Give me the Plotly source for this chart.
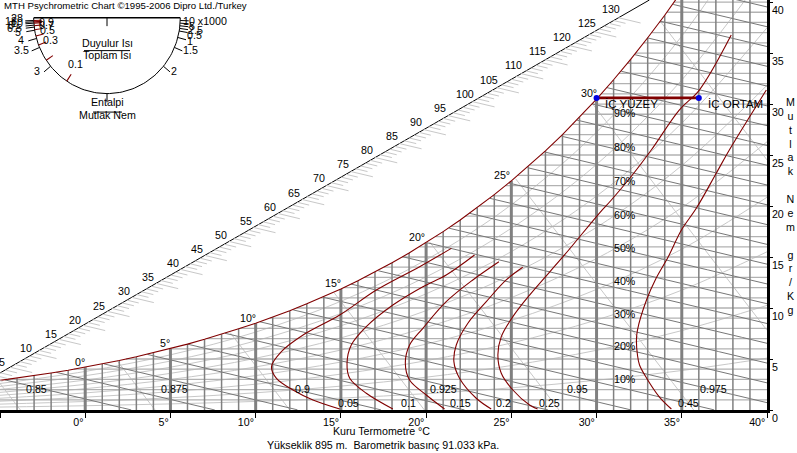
import numpy as np
import plotly.graph_objects as go

# ---------- chart values ----------
sat_T = list(range(-5, 37))
sat_W = [2.90, 3.12, 3.37, 3.63, 3.90, 4.20, 4.52, 4.86, 5.22, 5.61, 6.02, 6.46, 6.93, 7.43,
         7.96, 8.51, 9.10, 9.73, 10.41, 11.12, 11.87, 12.68, 13.53, 14.43, 15.39, 16.41,
         17.49, 18.63, 19.84, 21.12, 22.47, 23.90, 25.40, 27.00, 28.70, 30.49, 32.38,
         34.38, 36.50, 38.70, 41.07, 43.60]

rh_T = [-5, 0, 5, 10, 15, 20, 25, 30, 35, 40]
rh_10 = [0.288, 0.418, 0.596, 0.840, 1.167, 1.603, 2.173, 2.914, 3.869, 5.087]
rh_20 = [0.576, 0.836, 1.195, 1.685, 2.342, 3.213, 4.361, 5.854, 7.787, 10.26]
rh_30 = [0.864, 1.255, 1.795, 2.530, 3.520, 4.835, 6.571, 8.827, 11.75, 15.51]
rh_40 = [1.153, 1.676, 2.393, 3.375, 4.703, 6.459, 8.784, 11.825, 15.77, 20.86]
rh_50 = [1.442, 2.095, 2.996, 4.224, 5.883, 8.095, 11.02, 14.85, 19.84, 26.30]
rh_60 = [1.730, 2.514, 3.595, 5.073, 7.07, 9.74, 13.27, 17.91, 23.97, 31.84]
rh_70 = [2.02, 2.935, 4.197, 5.927, 8.26, 11.39, 15.53, 20.98, 28.13, 37.48]
rh_80 = [2.31, 3.36, 4.80, 6.78, 9.46, 13.05, 17.82, 24.08, 32.36, 43.1]
rh_90 = [2.60, 3.78, 5.41, 7.64, 10.66, 14.72, 20.12, 27.25, 36.66, 49.0]
rh_levels = [rh_10, rh_20, rh_30, rh_40, rh_50, rh_60, rh_70, rh_80, rh_90]

red_T_05 = [14.93, 13.36, 12.19, 11.22, 10.93, 11.51, 12.78, 14.93, 17.08, 19.62, 21.48]
red_W_05 = [0.1, 0.98, 1.96, 3.1, 4.25, 5.72, 7.35, 9.31, 11.76, 14.05, 15.85]
red_T_10 = [18.05, 16.49, 15.52, 15.36, 15.61, 16.49, 18.05, 19.81, 21.18, 22.84]
red_W_10 = [0.1, 1.64, 3.11, 4.58, 6.37, 8.17, 10.29, 12.09, 13.24, 15.2]
red_T_15 = [21.08, 20.01, 19.03, 18.78, 19.03, 19.81, 21.18, 22.74, 24.27]
red_W_15 = [0.1, 1.47, 2.94, 4.58, 6.37, 8.01, 10.62, 12.75, 14.54]
red_T_20 = [23.82, 22.94, 21.96, 21.63, 21.77, 22.45, 23.53, 24.7, 25.67]
red_W_20 = [0.1, 1.15, 3.11, 4.74, 6.37, 8.5, 10.62, 12.75, 13.99]
red_T_25 = [26.54, 26.07, 25.09, 24.41, 24.21, 24.41, 25.09, 26.07, 28.12, 30.17, 30.87,
            32.1, 33.21, 34.85, 36.03, 37.9]
red_W_25 = [0.1, 0.49, 1.96, 3.6, 5.39, 7.19, 9.15, 11.27, 15.2, 19.31, 20.59,
            23.04, 25.49, 29.41, 31.37, 36.76]
red_T_45 = [34.39, 33.69, 32.93, 32.52, 32.4, 32.34, 32.4, 32.93, 33.5, 34.2, 34.98,
            35.86, 37.03, 37.79, 39.96]
red_W_45 = [0.1, 1.27, 3.14, 4.41, 5.39, 6.86, 7.84, 10.78, 12.94, 15, 17.65,
            19.8, 23.24, 25.49, 31.37]
red_curves = [(red_T_05, red_W_05), (red_T_10, red_W_10), (red_T_15, red_W_15),
              (red_T_20, red_W_20), (red_T_25, red_W_25), (red_T_45, red_W_45)]

enth_W40 = [-14.8, -12.86, -10.92, -8.98, -7.04, -5.1, -3.16, -1.22, 0.72, 2.66, 4.6, 6.54,
            8.48, 10.42, 12.36, 14.3, 16.24, 18.18, 20.12, 22.06, 24, 25.94, 27.88, 29.82,
            31.76, 33.7, 35.64, 37.58, 39.52]
volume_T0 = [-3.8, 4.1, 12.0, 19.9, 27.8, 35.7, 43.6, 51.3, 59.2]
dry_bulb = list(range(-4, 40))
humidity = list(range(1, 41))
enth_values = list(range(5, 131, 5))
process_T = [30, 36]
process_W = [30.6, 30.6]

x_ticks = [-5, 0, 5, 10, 15, 20, 25, 30, 35, 40]
x_labels = ["", "0°", "5°", "10°", "15°", "20°", "25°", "30°", "35°", "40°"]
y_ticks = [0, 5, 10, 15, 20, 25, 30, 35, 40]

sat_labels = [("0°", 80, 362), ("5°", 165, 343), ("10°", 248, 318), ("15°", 333, 283),
              ("20°", 417, 237), ("25°", 502, 175), ("30°", 589, 93)]
rh_labels = [("10%", 379), ("20%", 346), ("30%", 314), ("40%", 281), ("50%", 248),
             ("60%", 215), ("70%", 181), ("80%", 147), ("90%", 113)]
vol_labels = [("0.85", 36), ("0.875", 174), ("0.9", 302), ("0.925", 443), ("0.95", 577), ("0.975", 713)]
fac_labels = [("0.05", 348), ("0.1", 408), ("0.15", 460), ("0.2", 503), ("0.25", 549), ("0.45", 688)]

# protractor: tick angle below the horizontal (degrees), on each side
pro_left_black = [2, 3, 4, 5.5, 7, 9.4, 15.8, 23, 39.7]
pro_left_text = [("28", 17, 18), ("18", 11, 21), ("10", 17, 23), ("8", 11, 25), ("6.5", 14, 28),
                 ("5", 18, 32), ("4", 21, 40), ("3.5", 21, 50), ("3", 37, 71)]
pro_left_red = [2, 3, 4, 6, 9, 13.8, 21, 34, 56.7]
pro_red_text = [("0.9", 46, 22), ("0.7", 46, 25), ("0.5", 47, 30), ("0.3", 50, 40), ("0.1", 75, 64)]
pro_right_black = [2, 4, 6, 8, 10, 15, 23, 39.7]
pro_right_text = [("10 x1000", 205, 21), ("5", 192, 26), ("2.5", 195, 30), ("0.5", 194, 35),
                  ("1", 190, 41), ("1.5", 190, 50), ("2", 174, 71)]

FONT = "Liberation Sans"
GRID_H = "#b2b2b2"
GRID_V = "#808080"
LIGHT = "#c8c8c8"
ENTH = "#777777"
RED = "#800000"

T_fine = np.arange(-5, 40.001, 0.05)
sat_fine = np.interp(T_fine, sat_T, sat_W)


def family(line_fn, levels):
    xs, ys = [], []
    for lv in levels:
        W = line_fn(lv)
        m = (W >= 0) & (W <= sat_fine)
        if m.any():
            xs += [float(v) for v in T_fine[m]] + [None]
            ys += [float(v) for v in W[m]] + [None]
    return xs, ys


fig = go.Figure()


def add_line(x, y, color, width, shape="linear", axes=("x", "y")):
    fig.add_trace(go.Scatter(x=x, y=y, mode="lines", xaxis=axes[0], yaxis=axes[1], hoverinfo="skip",
                             line=dict(color=color, width=width, shape=shape)))


for vals in rh_levels:
    add_line(rh_T, vals, LIGHT, 1, "spline")

vx, vy = family(lambda t0: (t0 - T_fine) * 2.17, volume_T0)
add_line(vx, vy, LIGHT, 1)

hx, hy = [], []
for w in humidity:
    hx += [float(np.interp(w, sat_W, sat_T)), 40, None]
    hy += [w, w, None]
add_line(hx, hy, GRID_H, 1.3)

ex, ey = family(lambda w40: w40 + 0.397 * (40 - T_fine), enth_W40)
add_line(ex, ey, ENTH, 1)

tx, ty, bx, by = [], [], [], []
for t in dry_bulb:
    top = float(np.interp(t, sat_T, sat_W))
    if t % 5 == 0:
        bx += [t, t, None]
        by += [0, top, None]
    else:
        tx += [t, t, None]
        ty += [0, top, None]
add_line(tx, ty, GRID_V, 1.5)
add_line(bx, by, GRID_V, 3)

add_line(sat_T, sat_W, RED, 1.1)
for cx, cy in red_curves:
    add_line(cx, cy, RED, 1.1, "spline")

px2T = lambda p: (p - 85.3) / 17.06
add_line([-5, 33.1], [3.63, 40.2], "#000000", 1)
hax, hay = [], []
for i in range(-4, 126):
    xp = 10 + i * 24.36 / 5
    t0 = px2T(xp)
    w0 = 3.63 + 0.96 * (t0 + 5)
    ln = 1.3 if i % 5 == 0 else 0.7
    hax += [t0, t0 + ln, None]
    hay += [w0, w0 - 0.397 * ln, None]
add_line(hax, hay, LIGHT, 1)

fig.add_trace(go.Scatter(x=process_T, y=process_W, mode="lines+markers", hoverinfo="skip",
                         line=dict(color=RED, width=2.6),
                         marker=dict(color="#0000e0", size=6)))

CX, CY, R = 107, 17.3, 73.3
ang = np.radians(np.arange(0, 180.5, 2))
X2 = ("x2", "y2")
add_line([float(v) for v in CX + R * np.cos(ang)], [float(v) for v in CY + R * np.sin(ang)], "#000000", 1, axes=X2)
add_line([CX - R, CX + R], [CY, CY], "#000000", 1.5, axes=X2)
add_line([CX, CX, None, CX, CX], [CY, CY + 8, None, CY + R, CY + R + 8.5], "#000000", 1, axes=X2)


def pro_ticks(angles, side, r0, r1):
    xs, ys = [], []
    for a in angles:
        c, s = np.cos(np.radians(a)), np.sin(np.radians(a))
        xs += [float(CX + side * r0 * c), float(CX + side * r1 * c), None]
        ys += [float(CY + r0 * s), float(CY + r1 * s), None]
    return xs, ys


for angs, side in ((pro_left_black, -1), (pro_right_black, 1)):
    a, b = pro_ticks(angs, side, R, R + 8.5)
    add_line(a, b, "#000000", 1, axes=X2)
a, b = pro_ticks(pro_left_red, -1, R, R - 8)
add_line(a, b, RED, 1.1, axes=X2)
add_line([84, 130, None, 93, 122], [49, 49, None, 108.5, 108.5], "#000000", 1, axes=X2)


annots = []


def text(s, x, y, size=10.67, **kw):
    annots.append(dict(text=s, x=x / 797, y=1 - y / 453, xref="paper", yref="paper", showarrow=False,
                       xanchor=kw.get("xanchor", "center"), yanchor="middle",
                       font=dict(family=FONT, size=size, color="#000000")))


text("MTH Psychrometric Chart ©1995-2006 Dipro Ltd./Turkey", 2, 6, xanchor="left", size=9.65)
for i, v in enumerate(enth_values):
    text(str(v), 2 + i * 24.36, 362 - i * 14.12)
for s, x, y in sat_labels:
    text(s, x, y)
for s, y in rh_labels:
    text(s, 625, y)
for s, x in vol_labels:
    text(s, x, 389)
for s, x in fac_labels:
    text(s, x, 403)
for group in (pro_left_text, pro_red_text, pro_right_text):
    for s, x, y in group:
        text(s, x, y)
text("Duyulur Isı", 107, 43)
text("Toplam Isı", 107, 55)
text("Entalpi", 107, 102)
text("Mutlak Nem", 107, 115)
text("İÇ YÜZEY", 631, 104, size=11.5)
text("İÇ ORTAM", 735, 104, size=11.5)
text("Kuru Termometre °C", 381, 431)
text("Yükseklik 895 m.  Barometrik basınç 91.033 kPa.", 383, 445)
text("<br>".join(list("Mutlak") + ["\u00a0"] + list("Nem") + ["\u00a0"] + list("gr/Kg")), 790, 206)

fig.update_layout(
    width=797, height=453, autosize=False, showlegend=False,
    margin=dict(l=0, r=0, t=0, b=0, pad=0), paper_bgcolor="#ffffff", plot_bgcolor="rgba(0,0,0,0)",
    font=dict(family=FONT, size=10.67, color="#000000"),
    annotations=annots,
    xaxis=dict(domain=[0, 767 / 797], range=[-5, 40], showgrid=False, zeroline=False, automargin=False,
               tickmode="array", tickvals=x_ticks, ticktext=x_labels, ticks="outside", ticklen=5,
               tickwidth=1, tickcolor="#000000", showline=True, linecolor="#000000", linewidth=2.5,
               ticklabelposition="outside left", tickfont=dict(family=FONT, size=10.67)),
    yaxis=dict(domain=[43 / 453, 1], range=[0, 40.2], side="right", showgrid=False, zeroline=False, automargin=False,
               tickmode="array", tickvals=y_ticks, ticks="outside", ticklen=3, tickwidth=1,
               tickcolor="#000000", showline=True, linecolor="#000000", linewidth=2.5,
               ticklabelposition="outside bottom", tickfont=dict(family=FONT, size=10.67)),
    xaxis2=dict(domain=[0, 1], range=[0, 797], visible=False, fixedrange=True, anchor="y2"),
    yaxis2=dict(domain=[0, 1], range=[438.5, 0], visible=False, fixedrange=True, anchor="x2"),
)

fig.write_html("out.html", config=dict(displayModeBar=False),
               post_script="document.body.style.margin='0';document.body.style.overflow='hidden';")
